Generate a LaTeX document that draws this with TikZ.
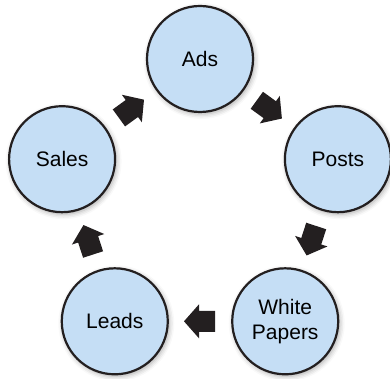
\documentclass[tikz,border=0pt]{standalone}
\usepackage{fontspec}
\setmainfont{Liberation Sans}
\usetikzlibrary{shadows.blur,calc}
\definecolor{bubble}{RGB}{197,222,245}
\definecolor{ink}{RGB}{35,31,32}
\tikzset{
  stage/.style={circle, draw=ink, line width=2.2pt, fill=bubble,
    minimum size=106pt, inner sep=0pt, align=center,
    font=\fontsize{21}{25}\selectfont,
    blur shadow={shadow xshift=1.5pt, shadow yshift=-2pt,
      shadow blur radius=5pt, shadow opacity=35}},
  flowarrow/.pic={
    \fill[ink] (-15,-10.5) -- (1,-10.5) -- (1,-17) -- (16,0) -- (1,17)
      -- (1,10.5) -- (-15,10.5) -- cycle;}
}
\begin{document}
\begin{tikzpicture}[x=1pt,y=1pt]
\useasboundingbox (0,0) rectangle (390,-379);
\coordinate (hub) at (200,-204);
% the five stages on a regular pentagon
\node[stage] (ads)    at ($(hub)+(90:145)$)   {Ads};
\node[stage] (posts)  at ($(hub)+(18:145)$)   {Posts};
\node[stage] (papers) at ($(hub)+(-54:145)$)  {White\\Papers};
\node[stage] (leads)  at ($(hub)+(-126:145)$) {Leads};
\node[stage] (sales)  at ($(hub)+(162:145)$)  {Sales};
% block arrows halfway between neighbouring stages
\pic[rotate=-36]  at ($(ads)!0.5!(posts)$)    {flowarrow};
\pic[rotate=-108] at ($(posts)!0.5!(papers)$) {flowarrow};
\pic[rotate=180]  at ($(papers)!0.5!(leads)$) {flowarrow};
\pic[rotate=108]  at ($(leads)!0.5!(sales)$)  {flowarrow};
\pic[rotate=36]   at ($(sales)!0.5!(ads)$)    {flowarrow};
\end{tikzpicture}
\end{document}
